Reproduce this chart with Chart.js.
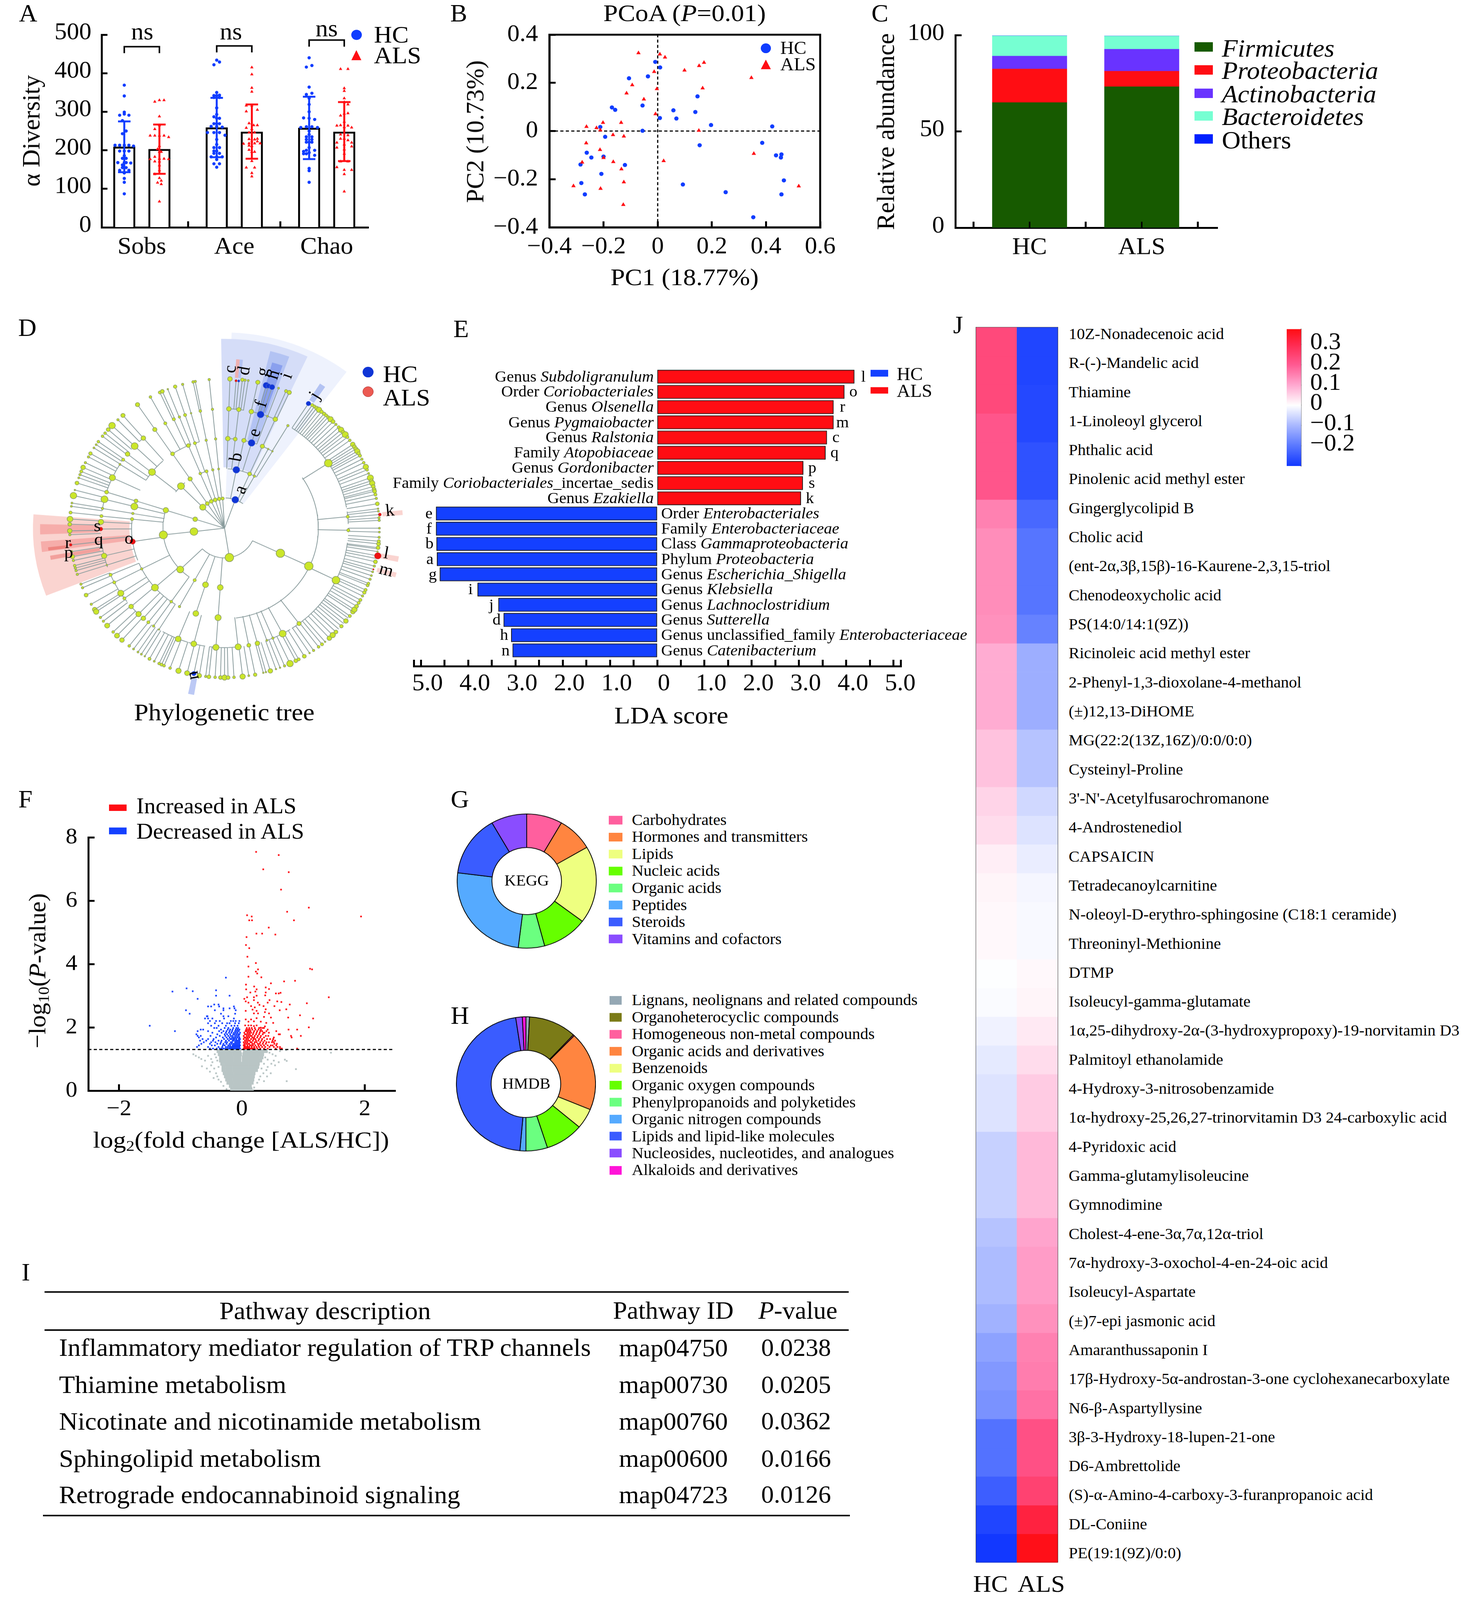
<!DOCTYPE html>
<html><head><meta charset="utf-8">
<style>
html,body{margin:0;padding:0;background:#fff;width:100%;height:100%;overflow:hidden}
#page{position:relative;width:3780px;height:4244px;overflow:hidden;background:#fff;font-family:"Liberation Serif",serif;color:#000;transform-origin:0 0}
canvas{position:absolute}
.t{position:absolute;white-space:nowrap;line-height:1}
.t sub{font-size:65%;vertical-align:-0.22em;line-height:0}
.b{position:absolute}
</style>
<script src="https://cdn.jsdelivr.net/npm/chart.js@4"></script>
</head><body><div id="page"></div>
<script>
/* ---------- A: alpha diversity ---------- */
const alphaCats=['Sobs','Ace','Chao'];
const alphaHCMean=[209,259,258], alphaHCHi=[275,336,339], alphaHCLo=[143,182,177];
const alphaALSMean=[203,248,248], alphaALSHi=[267,319,325], alphaALSLo=[139,178,172];
const sobsHC=[[0,369],[0,341],[0,299],[-.05,291],[.05,291],[0,294],[-.02,277],[.02,250],[-.02,243],[-.1,213],[-.05,213],[0,213],[.05,213],[.1,211],[-.05,198],[.05,198],[0,186],[-.02,179],[.02,179],[-.07,168],[-.02,162],[.07,167],[.02,168],[-.02,155],[.02,155],[-.05,148],[.05,148],[0,141],[0,127],[0,117],[0,87],[0,168],[0,198]];
const sobsALS=[[-.05,326],[0,330],[.05,330],[0,288],[-.1,238],[-.05,238],[0,238],[.05,238],[.1,234],[0,265],[-.05,255],[0,211],[-.02,203],[.02,196],[0,196],[-.1,177],[-.05,183],[0,178],[.05,178],[.1,177],[-.05,171],[0,171],[0,161],[0,148],[-.05,138],[0,128],[.02,121],[-.02,116],[.02,112],[0,67]];
const aceHC=[[-.03,422],[0,434],[.03,429],[0,350],[-.03,342],[0,342],[.03,343],[-.03,337],[.03,337],[0,310],[0,293],[-.03,287],[0,283],[.03,283],[-.03,269],[0,269],[.03,269],[-.06,262],[0,262],[.06,260],[-.1,246],[-.03,246],[.03,246],[.09,239],[0,228],[0,215],[-.03,207],[.03,207],[0,198],[-.03,198],[-.03,192],[.03,192],[-.06,183],[0,183],[.06,183],[0,176],[-.03,165],[.03,165],[0,156]];
const aceALS=[[0,415],[0,397],[0,362],[0,352],[-.06,301],[0,316],[.06,305],[-.06,316],[-.03,270],[.02,265],[.06,265],[-.06,258],[0,255],[.03,246],[-.03,246],[.06,230],[-.03,229],[.03,228],[0,223],[-.09,217],[.09,218],[-.03,218],[.03,218],[0,211],[-.03,201],[0,196],[.03,196],[0,172],[-.06,155],[.03,155],[0,141],[0,132],[-.03,212],[.06,223]];
const chaoHC=[[0,440],[-.03,416],[.03,420],[0,364],[.03,348],[-.03,345],[0,335],[0,319],[0,300],[-.06,284],[0,283],[.06,280],[-.03,261],[.03,261],[-.09,259],[.09,259],[0,250],[0,241],[-.03,235],[.03,235],[-.03,228],[.03,228],[0,221],[.03,221],[-.03,221],[0,207],[-.03,200],[.06,200],[-.06,197],[0,194],[-.06,191],[-.03,191],[.06,187],[0,153],[0,147],[0,117]];
const chaoALS=[[-.04,411],[.04,411],[0,361],[0,354],[0,335],[0,325],[.04,319],[-.04,290],[0,295],[.04,296],[0,274],[-.04,265],[-.08,264],[.04,264],[0,260],[.08,259],[-.04,241],[.04,239],[-.04,230],[0,230],[-.08,220],[0,215],[.04,226],[.08,220],[-.08,207],[0,202],[.08,210],[0,191],[-.04,171],[.04,171],[-.08,156],[0,149],[.08,149],[0,138],[0,93]];
const alphaHCJitter=[sobsHC,aceHC,chaoHC], alphaALSJitter=[sobsALS,aceALS,chaoALS];
const alphaSigLevel=[469,471,486];
/* ---------- B: PCoA ---------- */
const pcoaHC=[[-.009,.287],[.009,.264],[-.106,.219],[-.036,.227],[.147,.144],[-.056,.106],[-.169,.098],[-.157,.088],[.058,.086],[.139,.079],[.008,.054],[.069,.052],[.197,.025],[.423,.019],[-.212,.017],[-.056,.001],[-.194,-.024],[.155,-.059],[.386,-.049],[-.262,-.09],[-.245,-.11],[-.2,-.106],[.437,-.101],[.457,-.097],[.455,-.11],[-.285,-.139],[-.121,-.141],[-.208,-.178],[.466,-.205],[-.282,-.216],[.093,-.222],[.251,-.254],[-.269,-.263],[.457,-.263],[.353,-.358]];
const pcoaALS=[[-.071,.324],[.008,.319],[.027,.306],[.171,.284],[.153,.271],[.099,.252],[-.013,.246],[.346,.221],[-.094,.191],[-.003,.175],[.166,.178],[-.115,.157],[-.051,.132],[-.008,.071],[-.202,.035],[-.135,.035],[-.263,.018],[-.226,.013],[-.212,.004],[.152,.002],[-.165,-.016],[-.125,-.022],[-.264,-.05],[-.213,-.078],[.355,-.094],[-.2,-.111],[-.279,-.13],[-.164,-.128],[.022,-.124],[-.134,-.158],[-.125,-.212],[-.311,-.228],[.521,-.229],[-.211,-.239],[-.127,-.306]];
/* ---------- C: composition ---------- */
const phylaCats=['HC','ALS'];
const phylaNames=['Firmicutes','Proteobacteria','Actinobacteria','Bacteroidetes','Others'];
const firmicutes=[65,73.2], proteobacteria=[17.4,8.1], actinobacteria=[6.7,11.4], bacteroidetes=[10.5,6.8], others=[0.1,0.1];
const phylaColors=['#175a00','#ff0d13','#6933ff','#76ffd2','#0020ff'];
/* ---------- D: cladogram (angle deg clockwise from top, radius, node size) ---------- */
const treeArcs=[[115,115,226],[117,2,36],[230,-52.6,-40],[230,3,21],[230,21,29],[230,-23,-18],[230,-145,-70],[347,-57.6,-41.5],[347,-34.3,-24],[347,-24,-21],[347,-18.6,-15.7],[347,2,6.6],[347,11,20.3],[347,24,31],[347,-111,-85],[347,-148,-113],[350,56,173],[462,33,80],[462,97,136],[462,82,88],[462,90,92],[462,-43.5,-41],[462,-72,-57],[462,-81.6,-77],[462,-109,-97],[462,-128,-112],[462,-135,-130],[462,-162.7,-150],[462,-171,-163],[462,172,187],[462,155,160],[462,148,158],[462,128,147],[462,2,9],[462,12,25],[115,-3.5,-3]];
const treeFans=[
 [0,115,[-45,8,-34,5,-25.5,5,-17.6,5,-10,4.5,-3.5,4,20,0,171,11,-72.4,6,-96.5,10]],
 [115,230,[-45,9,-34,5.5,-23.2,3.5,-17,4,-11,3,-5.5,2.5,11,0,24,5,29,3,-134,9,-162,7.5,-176,7.5,-151,4,-72.4,7,-96.5,10.5,115,11]],
 [230,347,[-51.3,9,-34,5,-22.9,5,-18.6,4,-11.4,3,-5.5,3,2,6,6.6,5,12,5.5,17,0,24,5.5,28,2,31,2,-72.3,5,-76,9,-80.6,3,-84.2,4,-98.6,0,-117,3,-131.5,9,-145,3.5,-151,3,-162,7.5,-176,8,115,11]],
 [347,462,[-34.3,5.5,-28.6,4,-24.2,4,-21.4,3,-18.6,4,-15.7,2,-11.3,3.5,-5.6,3,2,6,6.6,5.5,12.5,6,17,0,20.3,2.5,24.2,6,30.8,3,-41,6,-46.6,9,-51.6,6,-55,4,-57.7,2.5,-65,8,-72.4,5,-76,9,-80.5,3,-84.2,4,-87,7,-90.4,0,-95.4,0,-103.4,7,-108,2,-113,4,-117,4,-123,8,-126,4,-131,6,-136,7,-139,6,-142,4,-145,3,-148,2,-158,7.5,-165.6,7.5,-176,8,173.7,8,168.7,5,164.6,6,160,2.5,157,3,152,9,143,5.5,57,10,115.8,10,84.5,4,91,4]],
 [462,578,[-34.2,5.5,-28.6,3.5,-24.7,4,-23.7,5,-21.5,2,-18.6,4.5,-15.7,3,-11.7,3.5,-10.9,3,-5.7,3,2,6,4.3,0,5.3,0,6.6,4.5,7.6,3,8.8,2.5,12.4,5.5,15.7,0,16.6,0,18,0,20.4,2.5,23.4,4,24.7,5.5,33,0,
  -41,5.5,-43.5,3,-46.6,8.5,-48.7,5,-50.5,3.5,-52,3.5,-54.6,3.5,-56,2.5,-57.5,2.5,-60,4.5,-61.5,3,-64,3,-66,6,-67.7,4,-69,3,-70.3,2.5,-72.4,5,-75.2,2,-77.4,8.5,-80.3,2.5,-81.6,2.5,-84,4,-86.5,7.5,-88.5,5,-91,6,-92.5,3,
  -96.4,0,-99,3,-101,5.5,-102.5,3,-104.5,3.5,-105.5,3,-106.5,3,-108,3,-112,3,-113.5,3,-116.6,5,-120.6,3,-123,6,-124,7,-126.7,3,-128.5,3,-130.7,6.5,-134,3.5,-136,6.5,-138.5,6,-142,3.5,-144,2.5,-146,2.5,-147.5,2.5,-149,2,-151,4,-153,2.5,-155,3.5,-156,4,-157,3.5,-159.4,3.5,-162.7,7,-166,6.5,-168.5,0,-170.6,6,-173,3,-174.2,5,-176.5,3.5,-178.5,5,180,7,178.7,5,176.5,3.5,173.3,7,171,2.5,168.6,4.5,165.5,2,164.5,2,162.8,6,160.6,2,159,2,157.2,3,155,8.5,152.6,5,151.4,4,149,5,
  146.7,2,144.9,3,142.6,3.5,141,4,139.5,2,137.4,6,135.7,7,134,5,132.5,0,131,4.5,129.7,0,128.4,6,127,0,126,4,124,6,123,7,121.5,5,120,4,118.7,4,117,3,115.5,4.5,114.4,4,112.5,4,111.7,3.5,110,3,108.5,2.5,107,2.5,106,0,104.7,3,103,5,101.7,0,100.6,0,99,2,98,0,97.5,5,
  96,5,95,4,93.5,3,91.5,2.5,90,2.5,87,3,86,3,84.8,0,83.5,2.5,82.5,2,
  34.5,4,35.5,4,36.5,5,37.6,7,38.8,4.5,40,4.5,41,4,42,4,43.2,7,44.5,5,46,3,47.5,4,48.8,7,50,5,51.2,8,52.5,4,54,3.5,55.9,6,57,5,58,5.5,59,7,60,4.5,61,4,62.5,3,64,3.5,65.8,7,67,3.5,68.5,2.5,70.3,8,71.5,5,72.5,7,73.8,5,75,5,75.7,5,77,4,78.5,3,80.6,5]]
];
const treeBlue=[[20,117,9],[11,230,9],[17,345,9],[17,460,9],[15.7,574,8],[16.6,574,6],[18,574,7],[5.3,572,3],[33,575,6],[-168.5,574,6]];
const treeRed=[[-98.6,347,7],[-90.4,462,5],[-96.4,578,3.5],[4.3,572,3],[84.8,582,4],[100.6,582,8.5],[106,578,2]];
const treeSectors=[[2,37,115,740,'#eef2fd'],[-1,25,230,716,'#d5ddf8'],[14,20,345,690,'#b3c3f3'],[15.5,19,460,650,'#8aa0ee'],[3.8,5,570,640,'#eeb0b0'],[5,6,570,640,'#b3c3f3'],[32.5,34.5,575,648,'#b3c3f3'],[-111.4,-85.7,347,699,'#fad4d0'],[-92,-88.7,462,673,'#f6adaa'],[-97.7,-94.3,347,672,'#f6adaa'],[-97.5,-96.4,578,648,'#ee8580'],[-100.7,-99.3,462,645,'#f2a09c'],[84,85.6,578,652,'#fad4d0'],[99.5,101.4,578,645,'#fad4d0'],[105,106.6,578,650,'#fad4d0'],[-170,-168,578,640,'#bcc9f5']];
const treeLetters=[['a',877,650,-70],['b',862,525,-80],['c',840,185,-85],['d',890,190,-80],['e',930,430,-73],['f',955,318,-73],['g',960,195,-75],['h',1000,205,-72],['i',1050,210,-70],['j',1155,285,-58],['k',1437,730,-5],['l',1425,895,10],['m',1425,960,15],['n',700,1370,-100],['o',463,838,0],['p',238,893,0],['q',350,843,0],['r',235,855,0],['s',345,790,0]];
/* ---------- E: LDA ---------- */
const ldaALSLabels=['Genus <i>Subdoligranulum</i>','Order <i>Coriobacteriales</i>','Genus <i>Olsenella</i>','Genus <i>Pygmaiobacter</i>','Genus <i>Ralstonia</i>','Family <i>Atopobiaceae</i>','Genus <i>Gordonibacter</i>','Family <i>Coriobacteriales</i>_incertae_sedis','Genus <i>Ezakiella</i>'];
const ldaALSValues=[4.17,3.96,3.73,3.73,3.59,3.56,3.09,3.08,3.04];
const ldaALSCodes=['l','o','r','m','c','q','p','s','k'];
const ldaHCLabels=['Order <i>Enterobacteriales</i>','Family <i>Enterobacteriaceae</i>','Class <i>Gammaproteobacteria</i>','Phylum <i>Proteobacteria</i>','Genus <i>Escherichia_Shigella</i>','Genus <i>Klebsiella</i>','Genus <i>Lachnoclostridium</i>','Genus <i>Sutterella</i>','Genus unclassified_family <i>Enterobacteriaceae</i>','Genus <i>Catenibacterium</i>'];
const ldaHCValues=[4.68,4.68,4.67,4.66,4.60,3.80,3.36,3.25,3.09,3.06];
const ldaHCCodes=['e','f','b','a','g','i','j','d','h','n'];
const ldaTicks=[-5.15,-5,-4.5,-4,-3.5,-3,-2.5,-2,-1.5,-1,-.5,0,.5,1,1.5,2,2.5,3,3.5,4,4.5,5,5.15];
/* ---------- F: volcano ---------- */
const volRedTop=[[.232,7.54],[.6,7.44],[.348,6.99],[.763,6.9],[.638,6.35],[1.09,5.78],[.737,5.65],[1.94,5.5],[.085,5.54],[.16,5.5],[.12,5.38],[.165,5.38],[.848,5.38],[.4375,5.15],[.237,4.96],[.33,4.96],[.545,4.93],[.076,4.85],[.067,4.6],[.12,4.5],[.09,4.23],[.228,4.03],[.107,3.92],[1.11,3.85],[1.143,3.83],[.263,3.83],[.228,3.76],[.25,3.7],[.317,3.58],[.107,3.6],[.473,3.39],[.6875,3.45],[.866,3.47],[.067,3.35],[.2,3.29],[.388,3.26],[.442,3.21],[.07,3.2],[.24,3.2],[1.415,2.95],[.554,3.07],[.6,3.07],[.63,3.09],[.22,3.13],[.388,3.1],[.138,3.1],[.38,3.01],[.085,2.95],[.196,2.95],[.24,3],[.04,2.9],[.0625,2.82],[.196,2.86],[.26,2.78],[.45,2.86],[.576,2.82],[.643,2.8],[.42,2.78],[.107,2.78],[1.058,2.76],[.78,2.72],[.286,2.71],[.15,2.67],[.353,2.67],[.53,2.67],[.21,2.63],[.0625,2.52],[.174,2.56],[.388,2.57],[.24,2.52],[.616,2.54],[.723,2.57],[.196,2.44],[.263,2.44],[.375,2.48],[.442,2.44],[.946,2.38],[.754,2.31],[1.16,2.28],[.0625,2.25],[.15,2.25],[.24,2.29],[.36,2.33],[.473,2.31],[.107,2.18],[.196,2.19],[.308,2.18],[.397,2.14],[.054,2.06],[.15,2.06],[.24,2.06],[.51,2.14],[.107,2.06],[.196,2.04],[.375,2.03],[.308,1.99],[1.09,2]];
const volRedRows=[[1.33,.03,.05,.07,.09,.11,.13,.15,.17,.19,.21,.25,.3,.36,.42,.55,.62,.65,.9],[1.38,.04,.06,.08,.1,.12,.16,.2,.24,.28,.33,.38,.45,.52,.58,.62],[1.43,.03,.05,.09,.13,.15,.18,.22,.27,.31,.36,.42,.47,.5,.56],[1.48,.04,.07,.1,.12,.17,.2,.26,.29,.34,.39,.53,.57],[1.53,.03,.06,.09,.14,.16,.21,.24,.3,.35,.4,.44,.49,.52],[1.58,.05,.08,.11,.13,.18,.23,.27,.32,.37,.5,.54],[1.63,.03,.07,.1,.15,.19,.22,.28,.33,.41,.46,.51],[1.68,.04,.06,.09,.12,.17,.2,.25,.3,.36,.52,.81],[1.73,.03,.08,.11,.14,.16,.21,.26,.31,.39,.43,.8,.96],[1.78,.05,.07,.1,.13,.18,.23,.28,.34,.6,.62],[1.83,.04,.09,.12,.15,.19,.24,.29,.35,.37,.44],[1.88,.06,.08,.11,.14,.2,.25,.3,.33,.4,.56],[1.93,.07,.1,.13,.17,.22,.27,.31,.42,.76,.9],[1.98,.08,.12,.16,.21,.28,.34,.36]];
const volBlueRows=[[1.33,-.03,-.05,-.07,-.09,-.11,-.13,-.15,-.17,-.19,-.21,-.24,-.27,-.3,-.33,-.36,-.41,-.47,-.52],[1.38,-.04,-.06,-.08,-.1,-.12,-.14,-.16,-.18,-.2,-.23,-.26,-.32,-.38,-.55,-.73],[1.43,-.03,-.05,-.07,-.09,-.11,-.13,-.15,-.19,-.22,-.28,-.31,-.44,-.49,-.7],[1.48,-.04,-.06,-.08,-.1,-.12,-.14,-.17,-.2,-.25,-.3,-.35,-.4,-.52,-.66],[1.53,-.03,-.05,-.07,-.09,-.11,-.16,-.18,-.24,-.27,-.34,-.43,-.5,-.62],[1.58,-.04,-.06,-.08,-.1,-.13,-.15,-.21,-.26,-.33,-.38,-.47,-.58,-.68],[1.63,-.03,-.05,-.09,-.12,-.14,-.17,-.19,-.23,-.29,-.46,-.55,-.64],[1.68,-.04,-.07,-.1,-.13,-.16,-.2,-.25,-.31,-.42,-.7],[1.73,-.05,-.08,-.11,-.15,-.18,-.22,-.27,-.36,-.51,-.67,-.72],[1.78,-.04,-.06,-.09,-.12,-.14,-.19,-.24,-.28,-.4,-.74],[1.83,-.03,-.07,-.1,-.13,-.17,-.21,-.26,-.33,-.48],[1.88,-.05,-.08,-.11,-.16,-.2,-.25,-.3,-.37,-.55,-.72,-1.09],[1.93,-.04,-.07,-.1,-.15,-.19,-.23,-.34,-.63,-.67],[1.98,-.06,-.09,-.14,-.22,-.28,-.41,-.45],[2.05,-.07,-.12,-.17,-.26,-.38,-.5,-1.5],[2.13,-.05,-.11,-.2,-.24,-.32,-.44,-.55],[2.2,-.04,-.1,-.14,-.18,-.36,-.42,-.52],[2.28,-.13,-.29,-.48,-.55,-.6],[2.35,-.22,-.3,-.57,-.56],[2.43,-.11,-.34,-.85],[2.54,-.1,-.3,-.44,-.91],[2.6,-.12,-.2,-.3],[2.66,-.13,-.37,-.55,-.5],[2.72,-.38,-.45],[2.9,-.72],[3,-.2,-.42],[3.17,-.42],[3.14,-.8],[3.23,-.9],[3.13,-1.13],[3.57,-.26]];
const volGrayRows=[[1.25,-.38,-.32,-.26,-.2,-.14,-.08,-.04,.05,.09,.15,.21,.27,.33,.39],[1.15,-.36,-.3,-.24,-.18,-.12,-.06,-.03,.04,.09,.15,.21,.27,.33],[1.05,-.34,-.28,-.22,-.16,-.1,-.04,.03,.08,.14,.2,.26,.32],[.95,-.34,-.28,-.22,-.16,-.1,-.04,.03,.08,.14,.2,.26,.3],[.85,-.32,-.26,-.2,-.14,-.08,-.03,.03,.08,.14,.2,.26],[.75,-.3,-.24,-.18,-.12,-.06,-.02,.03,.08,.14,.2,.25],[.65,-.3,-.24,-.18,-.12,-.06,-.02,.02,.07,.13,.19,.23],[.55,-.28,-.22,-.16,-.1,-.05,-.02,.02,.07,.13,.19],[.45,-.26,-.2,-.14,-.08,-.02,.02,.07,.13,.18],[.35,-.24,-.18,-.12,-.06,-.02,.02,.07,.13,.17],[.25,-.22,-.16,-.1,-.04,.02,.07,.12,.16],[.15,-.18,-.12,-.06,-.01,.03,.08,.13],[.05,-.16,-.1,-.04,.01,.05,.1,.14]];
const volGrayFringe=[[-.79,1.15],[-.75,1.1],[-.7,1.05],[-.66,1],[-.6,.95],[-.65,.77],[-.55,1.1],[-.5,1],[-.48,.9],[-.5,.8],[-.45,.7],[-.44,1.15],[-.42,.55],[-.4,.45],[-.38,.35],[-.34,.28],[-.3,.15],[-.25,.05],[.45,1.2],[.5,1.15],[.55,1.1],[.52,.95],[.48,.85],[.42,.75],[.4,.65],[.35,.55],[.3,.45],[.28,.35],[.25,.25],[.2,.1],[.18,.02],[.6,.9],[.54,.8],[.47,.55],[.73,.94],[.88,.68],[.73,.3],[1.45,1.2],[.72,1.28],[.62,1.25],[.7,.98],[-.57,.7],[-.52,.6],[-.46,.4],[.41,.45],[.36,.3],[-.42,1.05],[-.4,.95],[-.38,.75],[.38,1.05],[.42,.98],[.36,.85],[.32,.7]];
const volThreshold=1.3;
/* ---------- G / H: donuts ---------- */
const keggNames=['Carbohydrates','Hormones and transmitters','Lipids','Nucleic acids','Organic acids','Peptides','Steroids','Vitamins and cofactors'];
const keggValues=[8.3,8.3,18.6,10.6,6.1,25,14.7,8.3];
const keggColors=['#ff5f9e','#ff8540','#eeff80','#66ff00','#6bff80','#55aaff','#3a5cff','#8a4dff'];
const hmdbNames=['Lignans, neolignans and related compounds','Organoheterocyclic compounds','Homogeneous non-metal compounds','Organic acids and derivatives','Benzenoids','Organic oxygen compounds','Phenylpropanoids and polyketides','Organic nitrogen compounds','Lipids and lipid-like molecules','Nucleosides, nucleotides, and analogues','Alkaloids and derivatives'];
const hmdbValues=[3,40,1,68.5,17.5,32,18,5,166.5,5.5,3];
const hmdbColors=['#95a8b4','#7b7b17','#ff5f9e','#ff8540','#eeff80','#66ff00','#6bff80','#55aaff','#3a5cff','#8a4dff','#ff14d8'];
/* ---------- I: table ---------- */
const pathwayHeader=['Pathway description','Pathway ID','<i>P</i>-value'];
const pathwayNames=['Inflammatory mediator regulation of TRP channels','Thiamine metabolism','Nicotinate and nicotinamide metabolism','Sphingolipid metabolism','Retrograde endocannabinoid signaling'];
const pathwayIds=['map04750','map00730','map00760','map00600','map04723'];
const pathwayP=['0.0238','0.0205','0.0362','0.0166','0.0126'];
/* ---------- J: heatmap ---------- */
const metabolites=['10Z-Nonadecenoic acid','R-(-)-Mandelic acid','Thiamine','1-Linoleoyl glycerol','Phthalic acid','Pinolenic acid methyl ester','Gingerglycolipid B','Cholic acid','(ent-2α,3β,15β)-16-Kaurene-2,3,15-triol','Chenodeoxycholic acid','PS(14:0/14:1(9Z))','Ricinoleic acid methyl ester','2-Phenyl-1,3-dioxolane-4-methanol','(±)12,13-DiHOME','MG(22:2(13Z,16Z)/0:0/0:0)','Cysteinyl-Proline',"3'-N'-Acetylfusarochromanone",'4-Androstenediol','CAPSAICIN','Tetradecanoylcarnitine','N-oleoyl-D-erythro-sphingosine (C18:1 ceramide)','Threoninyl-Methionine','DTMP','Isoleucyl-gamma-glutamate','1α,25-dihydroxy-2α-(3-hydroxypropoxy)-19-norvitamin D3','Palmitoyl ethanolamide','4-Hydroxy-3-nitrosobenzamide','1α-hydroxy-25,26,27-trinorvitamin D3 24-carboxylic acid','4-Pyridoxic acid','Gamma-glutamylisoleucine','Gymnodimine','Cholest-4-ene-3α,7α,12α-triol','7α-hydroxy-3-oxochol-4-en-24-oic acid','Isoleucyl-Aspartate','(±)7-epi jasmonic acid','Amaranthussaponin I','17β-Hydroxy-5α-androstan-3-one cyclohexanecarboxylate','N6-β-Aspartyllysine','3β-3-Hydroxy-18-lupen-21-one','D6-Ambrettolide','(S)-α-Amino-4-carboxy-3-furanpropanoic acid','DL-Coniine','PE(19:1(9Z)/0:0)'];
const heatHC=[.235,.235,.235,.21,.21,.21,.15,.135,.135,.135,.13,.095,.095,.095,.07,.07,.05,.04,.02,.012,.008,.008,-.002,-.006,-.018,-.03,-.04,-.04,-.065,-.065,-.065,-.085,-.095,-.095,-.11,-.135,-.15,-.16,-.21,-.21,-.24,-.28,-.30];
const heatALS=[-.28,-.28,-.275,-.275,-.26,-.26,-.225,-.205,-.205,-.205,-.185,-.115,-.115,-.115,-.085,-.085,-.055,-.04,-.025,-.012,-.008,-.008,.008,.012,.025,.04,.06,.06,.08,.08,.08,.105,.115,.115,.13,.15,.155,.17,.22,.22,.25,.32,.37];
const cmapStops=[[-.30,[18,56,255]],[-.2,[90,120,255]],[-.1,[169,184,255]],[0,[255,255,255]],[.1,[255,168,208]],[.2,[255,90,146]],[.3,[255,42,80]],[.376,[255,13,19]]];
const cbarTicks=[-.2,-.1,0,.1,.2,.3];

/* ========== helpers ========== */
const page=document.getElementById('page');
/* the whole 3780x4244 sheet is fitted into the window the browser really has */
const fitY=Math.min(1,window.innerHeight/4244);
if(fitY<1)page.style.transform=`scaleY(${fitY})`;
const FF='"Liberation Serif"';
Chart.defaults.font.family=FF;
Chart.defaults.color='#000';
Chart.defaults.animation=false;
Chart.defaults.plugins.legend.display=false;
Chart.defaults.plugins.tooltip.enabled=false;
const minus=s=>String(s).replace('-','\u2212');
function T(html,x,y,size,o={}){
  const e=document.createElement('span');e.className='t';e.innerHTML=html;
  e.style.left=x+'px';e.style.top=y+'px';e.style.fontSize=size+'px';
  const ax={l:'0',c:'-50%',r:'-100%'}[o.a||'c'];
  page.appendChild(e);
  let sc='';
  if(o.w){sc=` scaleX(${o.w/e.offsetWidth})`;}
  e.style.transform=`translate(${ax},-50%)`+(o.rot?` rotate(${o.rot}deg)`:'')+sc;
  if(o.a==='l'&&o.w)e.style.transformOrigin='0 50%';
  return e;
}
function box(x,y,w,h,c,extra){const d=document.createElement('div');d.className='b';d.style.cssText=`left:${x}px;top:${y}px;width:${w}px;height:${h}px;background:${c};`+(extra||'');page.appendChild(d);return d;}
function mk(rect,m,cfg,plugins){
  const c=document.createElement('canvas');
  const W=rect.r-rect.l+m.l+m.r,H=rect.b-rect.t+m.t+m.b;
  c.width=W;c.height=H;c.style.left=(rect.l-m.l)+'px';c.style.top=(rect.t-m.t)+'px';
  c.style.width=W+'px';c.style.height=H+'px';
  page.appendChild(c);
  cfg.options=cfg.options||{};
  cfg.options.responsive=false;cfg.options.maintainAspectRatio=false;cfg.options.devicePixelRatio=1;
  cfg.options.events=[];
  cfg.options.layout={padding:cfg.padding!==undefined?cfg.padding:{top:m.t,right:m.r,left:0,bottom:0}};
  delete cfg.padding;
  cfg.plugins=plugins||[];
  const ch=new Chart(c,cfg);ch.$l=rect.l-m.l;ch.$t=rect.t-m.t;return ch;
}
function linAxis(min,max,o){
  const s={type:'linear',min,max,offset:false,
    border:{display:true,color:'#000',width:o.bw||5},
    grid:{drawOnChartArea:false,drawTicks:true,tickLength:-(o.tl||16),tickColor:'#000',tickWidth:o.bw||5},
    ticks:{color:'#000',font:{family:FF,size:o.fs||63},padding:o.pad,autoSkip:false,maxRotation:0,minRotation:0,labelOffset:o.lo||0,callback:o.cb||(v=>minus(v))}};
  if(o.step)s.ticks.stepSize=o.step;
  if(o.vals)s.afterBuildTicks=a=>{a.ticks=o.vals.map(v=>({value:v}));};
  s.afterFit=a=>{
    if(o.size!=null){if(a.isHorizontal())a.height=o.size;else a.width=o.size;}
    a.paddingTop=a.paddingBottom=a.paddingLeft=a.paddingRight=0;
  };
  if(o.pos)s.position=o.pos;
  if(o.reverse)s.reverse=true;
  return s;
}
const frame={id:'frame',afterDatasetsDraw(c){const a=c.chartArea,x=c.ctx;x.save();x.strokeStyle='#000';x.lineWidth=5;x.strokeRect(a.left,a.top,a.right-a.left,a.bottom-a.top);x.restore();}};
const pts=a=>a.map(p=>({x:p[0],y:p[1]}));
const line=(data,color,w,dash,order)=>({type:'scatter',data,showLine:true,borderColor:color,borderWidth:w,borderDash:dash||[],pointRadius:0,order:order||1,clip:false});
const BLUE='#0f3cff',RED='#ff0d13';

/* panel letters */
[['A',72,36],['B',1174,36],['C',2252,36],['D',70,870],['E',1180,873],['F',65,2120],['G',1177,2120],['H',1177,2694],['I',66,3375],['J',2452,862]].forEach(p=>T(p[0],p[1],p[2],65));

/* ===== A ===== */
(function(){
  const ds=[];
  const off=.19;
  ds.push({type:'bar',grouped:false,data:alphaHCMean.map((v,i)=>({x:i+1-off,y:v})),backgroundColor:'#fff',borderColor:'#000',borderWidth:5,barThickness:56,order:10,borderSkipped:'bottom'});
  ds.push({type:'bar',grouped:false,data:alphaALSMean.map((v,i)=>({x:i+1+off,y:v})),backgroundColor:'#fff',borderColor:'#000',borderWidth:5,barThickness:56,order:10,borderSkipped:'bottom'});
  [[alphaHCJitter,-off,BLUE,'circle',4.2,alphaHCHi,alphaHCLo],[alphaALSJitter,off,RED,'triangle',5,alphaALSHi,alphaALSLo]].forEach(g=>{
    g[0].forEach((arr,i)=>{
      const cx=i+1+g[1];
      ds.push({type:'scatter',data:arr.map(p=>({x:cx+p[0],y:p[1]})),pointStyle:g[3],pointRadius:g[4],pointBackgroundColor:g[2],pointBorderWidth:0,order:3,clip:false});
      ds.push({type:'scatter',data:[{x:cx,y:g[5][i]},{x:cx,y:g[6][i]}],showLine:true,borderColor:g[2],borderWidth:5,pointStyle:'line',pointRadius:16,pointBorderColor:g[2],pointBorderWidth:5,order:2,clip:false});
    });
  });
  alphaSigLevel.forEach((lv,i)=>{
    const a=i+1-off+.0,b=i+1+off+.0,low=lv-17;
    ds.push(line([{x:a,y:low},{x:a,y:lv},{x:b,y:lv},{x:b,y:low}],'#000',4,null,1));
  });
  mk({l:260,t:92,r:943,b:603},{l:160,t:60,r:40,b:110},{type:'bar',data:{datasets:ds},options:{
    scales:{
      x:linAxis(.5645,3.452,{vals:[1,2,3],pad:31,fs:64,cb:v=>alphaCats[v-1],size:110}),
      y:linAxis(0,500,{step:100,pad:41,fs:63,lo:-5,size:160,tl:15})
    }}});
  T('ns',364,84,64);T('ns',591,84,64);T('ns',836,75,64);
  box(898.5,78.5,27,27,'#0f3cff','border-radius:50%');
  box(899,133,26,27,'#ff0d13','clip-path:polygon(50% 0,100% 100%,0 100%)');
  T('HC',957,92,64,{a:'l'});T('ALS',957,147,64,{a:'l'});
  T('α Diversity',80,347,64,{rot:-90,w:296});
})();

/* ===== B ===== */
mk({l:1406,t:92,r:2099,b:603},{l:200,t:60,r:60,b:110},{type:'scatter',data:{datasets:[
  line([{x:-.4,y:0},{x:.6,y:0}],'#000',3,[8,6],5),
  line([{x:0,y:-.4},{x:0,y:.4}],'#000',3,[8,6],5),
  {data:pts(pcoaHC),pointStyle:'circle',pointRadius:5.5,pointBackgroundColor:'#0f3cff',pointBorderWidth:0,order:2},
  {data:pts(pcoaALS),pointStyle:'triangle',pointRadius:6.5,pointBackgroundColor:'#ff0d13',pointBorderWidth:0,order:1}
]},options:{scales:{
  x:linAxis(-.4,.6,{step:.2,pad:31,fs:63,size:110,cb:v=>minus(+v.toFixed(1))}),
  y:linAxis(-.4,.4,{step:.2,pad:45,fs:63,size:200,cb:v=>minus(+v.toFixed(1))})
}}},[frame]);
T('PCoA (<i>P</i>=0.01)',1752,35,64,{w:416});
T('PC1 (18.77%)',1752,735,64,{w:379});
T('PC2 (10.73%)',1216,349,64,{rot:-90,w:378});
box(1947,114.5,26,26,'#0f3cff','border-radius:50%');
box(1947,158,26,26,'#ff0d13','clip-path:polygon(50% 0,100% 100%,0 100%)');
T('HC',1997,127,48,{a:'l'});T('ALS',1997,171,48,{a:'l'});

/* ===== C ===== */
mk({l:2445,t:93,r:3116,b:604},{l:130,t:60,r:40,b:110},{type:'bar',data:{datasets:
  [firmicutes,proteobacteria,actinobacteria,bacteroidetes,others].map((v,i)=>({data:v.map((y,k)=>({x:k+1,y})),backgroundColor:phylaColors[i],borderWidth:0,barThickness:191,order:5}))
  .concat(phylaCats.map((c,k)=>line([{x:k+1,y:0},{x:k+1,y:3.1}],'#000',4,null,1)))
},options:{scales:{
  x:Object.assign(linAxis(.338,2.676,{vals:[1,2],pad:31,fs:64,size:110,cb:v=>phylaCats[v-1]}),{stacked:true}),
  y:Object.assign(linAxis(0,100,{vals:[0,50,100],pad:44,fs:63,size:130,lo:-4}),{stacked:true})
}}});
phylaNames.forEach((n,i)=>{
  const y=[124.5,185,247,307,368.5][i];
  box(3057,y-12.5,47,25,phylaColors[i]);
  T(i<4?'<i>'+n+'</i>':n,3127,y+3,66.5,{a:'l'});
});
T('Relative abundance',2267,349,64,{rot:-90,w:522});

/* ===== D ===== */
(function(){
  const rad=Math.PI/180;
  const P=(a,r)=>({x:820+r*Math.sin(a*rad),y:800-r*Math.cos(a*rad)});
  const gap={x:NaN,y:NaN};
  const edges=[],nodes=[],sizes=[];
  treeArcs.forEach(([r,a0,a1])=>{for(let a=a0;a<a1;a+=1.5)edges.push(P(a,r));edges.push(P(a1,r));edges.push(gap);});
  treeFans.forEach(([r0,r1,list])=>{for(let i=0;i<list.length;i+=2){edges.push(P(list[i],r0));edges.push(P(list[i],r1));edges.push(gap);if(list[i+1]>0){nodes.push(P(list[i],r1));sizes.push(list[i+1]);}}});
  const pxPerUnit=1100/1568;
  const sectors={id:'sectors',beforeDatasetsDraw(c){
    const x=c.ctx,sx=c.scales.x,sy=c.scales.y,cx=sx.getPixelForValue(820),cy=sy.getPixelForValue(800);
    x.save();
    treeSectors.forEach(([a0,a1,r0,r1,col])=>{
      x.beginPath();
      x.arc(cx,cy,r1*pxPerUnit,(a0-90)*rad,(a1-90)*rad);
      x.arc(cx,cy,r0*pxPerUnit,(a1-90)*rad,(a0-90)*rad,true);
      x.closePath();x.fillStyle=col;x.fill();
    });
    x.restore();
  }};
  const hid=(rev)=>({type:'linear',min:0,max:1568,display:false,reverse:!!rev});
  const ch=mk({l:0,t:840,r:1100,b:1940},{l:0,t:0,r:0,b:0},{type:'scatter',padding:0,data:{datasets:[
    {data:edges,showLine:true,borderColor:'#8b9d9e',borderWidth:2,pointRadius:0,order:5,spanGaps:false},
    {data:nodes,pointRadius:sizes,pointBackgroundColor:'#cbe62a',pointBorderColor:'#8c9c63',pointBorderWidth:1.5,order:4},
    {data:treeBlue.map(n=>P(n[0],n[1])),pointRadius:treeBlue.map(n=>n[2]),pointBackgroundColor:'#0f35d6',pointBorderColor:'#5a72d8',pointBorderWidth:1,order:3},
    {data:treeRed.map(n=>P(n[0],n[1])),pointRadius:treeRed.map(n=>n[2]),pointBackgroundColor:'#ee1111',pointBorderColor:'#b94040',pointBorderWidth:1,order:2}
  ]},options:{scales:{x:hid(false),y:hid(true)}}},[sectors]);
  treeLetters.forEach(([s,zx,zy,rot])=>{
    T(s,ch.scales.x.getPixelForValue(zx),840+ch.scales.y.getPixelForValue(zy),46,{rot});
  });
  box(928,973,28,28,'#0f35d6','border-radius:50%');
  box(928,1025,28,28,'#ec5a52','border-radius:50%;box-sizing:border-box;border:1.5px solid #a33');
  T('HC',980,992,64,{a:'l'});T('ALS',980,1055,64,{a:'l'});
  T('Phylogenetic tree',574,1890,64,{w:462});
})();

/* ===== E ===== */
(function(){
  const labels=ldaALSLabels.concat(ldaHCLabels);
  const codes=ldaALSCodes.concat(ldaHCCodes);
  const vals=ldaALSValues.concat(ldaHCValues.map(v=>-v));
  const S=linAxis(-5.15,5.15,{vals:ldaTicks,pad:27,fs:63,tl:17,lo:17,size:130,cb:v=>{
    const k=Math.round(Math.abs(v)*100)/100;
    if(k===0)return '0';
    if(k>5||Math.abs(k-Math.round(k))>.01)return '';
    return k.toFixed(1);
  }});
  const ch=mk({l:1059,t:978.5,r:2305,b:1767},{l:10,t:10,r:60,b:130},{type:'bar',padding:{left:10,top:10,right:60,bottom:0},data:{datasets:[
    {data:vals.map((v,i)=>({x:v,y:i+1})),grouped:false,barThickness:36,backgroundColor:vals.map(v=>v>0?'#ff0d13':'#1440ff'),borderColor:'#1a1a1a',borderWidth:2,borderSkipped:false}
  ]},options:{indexAxis:'y',scales:{
    x:S,
    y:{type:'linear',min:.5,max:20.04,reverse:true,display:false,offset:false}
  }}});
  vals.forEach((v,i)=>{
    const y=ch.$t+ch.scales.y.getPixelForValue(i+1),xe=ch.$l+ch.scales.x.getPixelForValue(v);
    if(v>0){T(labels[i],1673,y,41.7,{a:'r'});T(codes[i],xe+23,y,41.7);}
    else{T(labels[i],1692,y,41.7,{a:'l'});T(codes[i],xe-18,y,41.7);}
  });
  box(2228,981,45,18,'#1440ff');box(2228,1027,45,17,'#ff0d13');
  T('HC',2295,992,48,{a:'l'});T('ALS',2295,1037,48,{a:'l'});
  T('LDA score',1718,1898,64,{w:292});
})();

/* ===== F ===== */
(function(){
  const fromRows=rows=>rows.flatMap(r=>r.slice(1).map(x=>({x,y:r[0]})));
  mk({l:226,t:2221.4,r:1012,b:2893.5},{l:150,t:40,r:40,b:100},{type:'scatter',data:{datasets:[
    {data:fromRows(volGrayRows),pointStyle:'rect',pointRadius:7,pointBackgroundColor:'#b9c5c5',pointBorderWidth:0,order:6},
    {data:pts(volGrayFringe),pointStyle:'rect',pointRadius:3.2,pointBackgroundColor:'#b9c5c5',pointBorderWidth:0,order:6},
    {data:pts(volRedTop).concat(fromRows(volRedRows)),pointStyle:'rect',pointRadius:3,pointBackgroundColor:'#ff0d13',pointBorderWidth:0,order:4},
    {data:fromRows(volBlueRows),pointStyle:'rect',pointRadius:3,pointBackgroundColor:'#1440ff',pointBorderWidth:0,order:4},
    line([{x:-2.5,y:volThreshold},{x:2.45,y:volThreshold}],'#000',3,[8,6],1)
  ]},options:{scales:{
    x:linAxis(-2.5,2.5,{vals:[-2,0,2],pad:30,fs:60,tl:17,size:100}),
    y:linAxis(0,8,{vals:[0,2,4,6,8],pad:44,fs:60,size:150})
  }}});
  box(279,2134,45,17,'#ff0d13');box(279,2195,45,18,'#1440ff');
  T('Increased in ALS',349,2138,59,{a:'l'});T('Decreased in ALS',349,2205,59,{a:'l'});
  T('\u2212log<sub>10</sub>(<i>P</i>-value)',95,2575,62,{rot:-90,w:412});
  T('log<sub>2</sub>(fold change [ALS/HC])',617,3023,62,{w:758});
})();

/* ===== G/H ===== */
function donut(cx,cy,values,colors){
  const R=179;
  mk({l:cx-R,t:cy-R,r:cx+R,b:cy+R},{l:0,t:0,r:0,b:0},{type:'doughnut',padding:0,data:{datasets:[{data:values,backgroundColor:colors,borderColor:'#000',borderWidth:2}]},options:{cutout:'50%',rotation:0,circumference:360}});
}
donut(1348,2337,keggValues,keggColors);
T('KEGG',1348,2335,41);
keggNames.forEach((n,i)=>{const y=2175+i*45.1;box(1558,y-11.5,35,23,keggColors[i]);T(n,1617,y,41.6,{a:'l'});});
donut(1346,2875,hmdbValues,hmdbColors);
T('HMDB',1347,2874,41);
hmdbNames.forEach((n,i)=>{const y=2653+i*45.1;box(1560,y-11.5,31,23,hmdbColors[i]);T(n,1617,y,41.6,{a:'l'});});

/* ===== I ===== */
box(114,3425,2058,4,'#000');box(114,3526,2058,4,'#000');box(110,4018,2065,4,'#000');
T(pathwayHeader[0],832,3477,66.5);
T(pathwayHeader[1],1723,3477,65);
T(pathwayHeader[2],2042,3477,65);
[3574.5,3673,3770,3868.5,3965].forEach((y,i)=>{
  T(pathwayNames[i],151,y,66.5,{a:'l'});
  T(pathwayIds[i],1584,y,66,{a:'l'});
  T(pathwayP[i],1948,y,65,{a:'l'});
});

/* ===== J ===== */
function cmap(v){
  for(let i=0;i<cmapStops.length-1;i++){
    const [a,ca]=cmapStops[i],[b,cb]=cmapStops[i+1];
    if(v<=b){const t=Math.max(0,(v-a)/(b-a));return `rgb(${ca.map((c,k)=>Math.round(c+(cb[k]-c)*t)).join(',')})`;}
  }
  const l=cmapStops[cmapStops.length-1][1];return `rgb(${l.join(',')})`;
}
mk({l:2498,t:868,r:2707,b:4145},{l:0,t:0,r:0,b:0},{type:'bar',padding:0,data:{labels:['HC','ALS'],datasets:metabolites.map((m,i)=>({label:m,data:[1,1],backgroundColor:[cmap(heatHC[i]),cmap(heatALS[i])],borderWidth:0,barPercentage:1,categoryPercentage:1}))},
  options:{scales:{x:{display:false,stacked:true},y:{display:false,stacked:true,reverse:true,min:0,max:43}}}});
box(2497,867,209,3276,'transparent','border:1.5px solid #333;');
metabolites.forEach((m,i)=>T(m,2735,886+77*i,41.5,{a:'l'}));
T('HC',2535,4201,64);T('ALS',2665,4201,64);
mk({l:3293,t:873,r:3330,b:1236},{l:0,t:40,r:220,b:20},{type:'bar',padding:{top:40,bottom:20,left:0,right:0},data:{labels:[''],datasets:[{data:[[-.30,.376]],barPercentage:1,categoryPercentage:1,borderWidth:0,
  backgroundColor:ctx=>{
    const c=ctx.chart,a=c.chartArea;if(!a)return '#888';
    const g=c.ctx.createLinearGradient(0,a.bottom,0,a.top);
    cmapStops.forEach(s=>g.addColorStop((s[0]+.30)/.676,`rgb(${s[1].join(',')})`));
    return g;
  }}]},options:{scales:{
    x:{display:false},
    y:linAxis(-.30,.376,{pos:'right',vals:cbarTicks,pad:29,fs:63,tl:6,bw:1.5,lo:-4,size:220,cb:v=>minus(+v.toFixed(1))})
  }}});
</script>
</body></html>
